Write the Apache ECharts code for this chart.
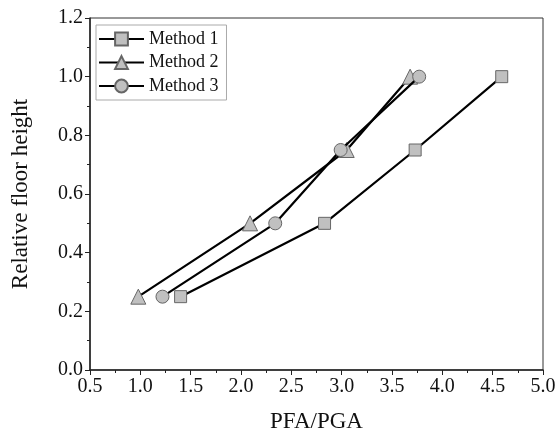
<!DOCTYPE html>
<html><head><meta charset="utf-8">
<script src="https://cdn.jsdelivr.net/npm/echarts@6/dist/echarts.min.js"></script>
<style>html,body{margin:0;padding:0;background:#fff}#c{width:558px;height:434px}</style>
</head><body><div id="c"></div>
<script>
var seriesNames = ['Method 1', 'Method 2', 'Method 3'];
var heights = [0.25, 0.5, 0.75, 1.0];
var method1 = [1.40, 2.83, 3.73, 4.59];
var method2 = [0.98, 2.09, 3.05, 3.68];
var method3 = [1.22, 2.34, 2.99, 3.77];
var symbols = ['rect', 'triangle', 'circle'];
var symbolSizes = [12, 15, 13];
var font = 'Liberation Serif';
function pts(xs){ return xs.map(function(x,i){ return [x, heights[i]]; }); }
var all = [method1, method2, method3];
var chart = echarts.init(document.getElementById('c'), null, {renderer:'canvas'});
chart.setOption({
  animation:false,
  backgroundColor:'#fff',
  grid:{left:90, top:18, right:15, bottom:64, containLabel:false, outerBoundsMode:'none', show:true, borderColor:'#333', borderWidth:1, backgroundColor:'transparent'},
  legend:{
    left:96, top:25, orient:'vertical', itemGap:5.5, itemWidth:45, itemHeight:16,
    borderColor:'#aaa', borderWidth:1, padding:[5,8,5,2],
    textStyle:{fontFamily:font, fontSize:18, color:'#111'},
    data:seriesNames
  },
  xAxis:{
    type:'value', min:0.5, max:5.0, interval:0.5,
    name:'PFA/PGA', nameLocation:'middle', nameGap:40,
    nameTextStyle:{fontFamily:font, fontSize:23, color:'#111'},
    axisLine:{show:true, onZero:false, lineStyle:{color:'#222', width:1.5}},
    axisTick:{show:true, inside:false, length:5, lineStyle:{color:'#222'}},
    minorTick:{show:true, splitNumber:2, length:3, lineStyle:{color:'#222'}},
    splitLine:{show:false},
    axisLabel:{fontFamily:font, fontSize:20, color:'#111', margin:7, formatter:function(v){return v.toFixed(1);}}
  },
  yAxis:{
    type:'value', min:0, max:1.2, interval:0.2,
    name:'Relative floor height', nameLocation:'middle', nameGap:58,
    nameTextStyle:{fontFamily:font, fontSize:23, color:'#111'},
    axisLine:{show:true, onZero:false, lineStyle:{color:'#222', width:1.5}},
    axisTick:{show:true, inside:false, length:5, lineStyle:{color:'#222'}},
    minorTick:{show:true, splitNumber:2, length:3, lineStyle:{color:'#222'}},
    splitLine:{show:false},
    axisLabel:{fontFamily:font, fontSize:20, color:'#111', margin:7, formatter:function(v){return v.toFixed(1);}}
  },
  series: seriesNames.map(function(n,k){
    return {
      name:n, type:'line', data:pts(all[k]),
      symbol:symbols[k], symbolSize:symbolSizes[k], showSymbol:true,
      lineStyle:{color:'#000', width:2.2},
      itemStyle:{color:'#c0c0c0', borderColor:'#666', borderWidth:1},
      z:2+k
    };
  })
});
</script></body></html>
